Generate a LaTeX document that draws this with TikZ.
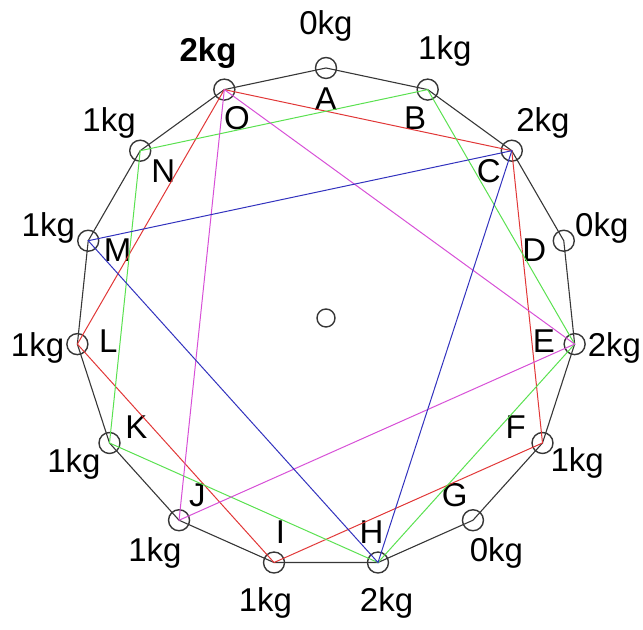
\documentclass[tikz,border=0pt]{standalone}
\usepackage{fontspec}
\setmainfont{Liberation Sans}
\usepackage{xcolor}
\usepackage{tikz}
\definecolor{rim}{RGB}{55, 55, 55}
\definecolor{chordred}{RGB}{225, 55, 55}
\definecolor{chordgreen}{RGB}{90, 225, 80}
\definecolor{chordpink}{RGB}{215, 80, 215}
\definecolor{chordblue}{RGB}{50, 50, 190}

\begin{document}
\begin{tikzpicture}[
    x=0.5pt, y=0.5pt,
    every node/.style={font=\fontsize{16.5}{19}\selectfont},
    vtx/.style={circle, draw=rim, line width=0.7pt, minimum size=10.5pt, inner sep=0pt},
    hub/.style={circle, draw=rim, line width=0.7pt, minimum size=9pt, inner sep=0pt},
    letter/.style={inner sep=0pt, text=black},
    kg/.style={inner sep=0pt, text=black},
    edge/.style={draw=rim, line width=0.55pt},
    red5/.style={draw=chordred, line width=0.5pt},
    green5/.style={draw=chordgreen, line width=0.5pt},
    pink3/.style={draw=chordpink, line width=0.5pt},
    blue3/.style={draw=chordblue, line width=0.5pt}
]
\useasboundingbox (0,0) rectangle (643,630);

\begin{scope}[shift={(326,312)}]

% Centre
\node[hub] (hub) at (0,0) {};

% Vertices, letters and weights
\node[vtx] (A) at (90:250) {};   \node[letter] (lA) at (90:219) {A};   \node[kg] (kA) at (90:292) {0kg};
\node[vtx] (B) at (66:250) {};   \node[letter] (lB) at (66:219) {B};   \node[kg] (kB) at (66:292) {1kg};
\node[vtx] (C) at (42:250) {};   \node[letter] (lC) at (42:219) {C};   \node[kg] (kC) at (42:292) {2kg};
\node[vtx] (D) at (18:250) {};   \node[letter] (lD) at (18:219) {D};   \node[kg] (kD) at (18:290) {0kg};
\node[vtx] (E) at (-6:250) {};   \node[letter] (lE) at (-6:219) {E};   \node[kg] (kE) at (-6:290) {2kg};
\node[vtx] (F) at (-30:250) {};  \node[letter] (lF) at (-30:219) {F};  \node[kg] (kF) at (-30:290) {1kg};
\node[vtx] (G) at (-54:250) {};  \node[letter] (lG) at (-54:219) {G};  \node[kg] (kG) at (-54:290) {0kg};
\node[vtx] (H) at (-78:250) {};  \node[letter] (lH) at (-78:219) {H};  \node[kg] (kH) at (-78:291) {2kg};
\node[vtx] (I) at (-102:250) {}; \node[letter] (lI) at (-102:219) {I}; \node[kg] (kI) at (-102:291) {1kg};
\node[vtx] (J) at (-126:250) {}; \node[letter] (lJ) at (-126:219) {J}; \node[kg] (kJ) at (-126:291) {1kg};
\node[vtx] (K) at (-150:250) {}; \node[letter] (lK) at (-150:219) {K}; \node[kg] (kK) at (-150:291) {1kg};
\node[vtx] (L) at (186:250) {};  \node[letter] (lL) at (186:219) {L};  \node[kg] (kL) at (186:290) {1kg};
\node[vtx] (M) at (162:250) {};  \node[letter] (lM) at (162:219) {M};  \node[kg] (kM) at (162:292) {1kg};
\node[vtx] (N) at (138:250) {};  \node[letter] (lN) at (138:219) {N};  \node[kg] (kN) at (138:292) {1kg};
\node[vtx] (O) at (114:250) {};  \node[letter] (lO) at (114:219) {O};  \node[kg] (kO) at (114:290) {\textbf{2kg}};

% Rim
\draw[edge] (A.center) -- (B.center) -- (C.center) -- (D.center) -- (E.center)
    -- (F.center) -- (G.center) -- (H.center) -- (I.center) -- (J.center)
    -- (K.center) -- (L.center) -- (M.center) -- (N.center) -- (O.center) -- cycle;

% Pentagons
\draw[red5] (O.center) -- (C.center) -- (F.center) -- (I.center) -- (L.center) -- cycle;
\draw[green5] (B.center) -- (E.center) -- (H.center) -- (K.center) -- (N.center) -- cycle;

% Triangles
\draw[pink3] (O.center) -- (E.center) -- (J.center) -- cycle;
\draw[blue3] (C.center) -- (H.center) -- (M.center) -- cycle;

\end{scope}
\end{tikzpicture}
\end{document}
